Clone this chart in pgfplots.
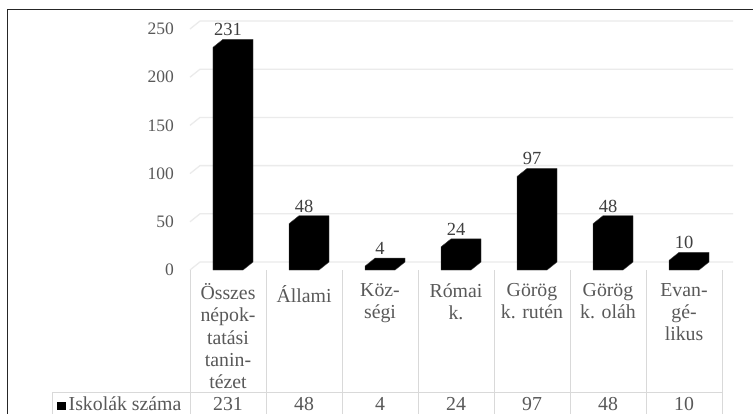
\documentclass[border=0pt]{standalone}
\usepackage{fontspec}
\setmainfont{Liberation Serif}
\usepackage{pgfplots}
\pgfplotsset{compat=1.18}
\usepackage{pgfplotstable}
\definecolor{txt}{HTML}{595959}
\definecolor{lbl}{HTML}{404040}
\definecolor{gridc}{HTML}{EBEBEB}
\definecolor{tabc}{HTML}{D9D9D9}

\pgfplotstableread{
x v
0 231
1 48
2 4
3 24
4 97
5 48
6 10
}\datatable

\begin{document}
\begin{tikzpicture}
\useasboundingbox (0,0) rectangle (753bp,-414bp);
\clip (0,0) rectangle (753bp,-414bp);
\fill[white] (0,0) rectangle (753bp,-414bp);
\draw[black!85, line width=1.6bp] (7.5bp,-600bp) -- (7.5bp,-9.5bp) -- (900bp,-9.5bp);
\draw[tabc, line width=1bp] (52bp,-392bp) -- (722bp,-392bp);
\draw[tabc, line width=1bp] (52bp,-392bp) -- (52bp,-440bp);
\node[anchor=base west, inner sep=0pt, font=\fontsize{19.8bp}{22.3bp}\selectfont, text=txt] at (57bp,-410.5bp) {\textcolor{black}{\raisebox{0.5bp}{\rule{8.5bp}{8.5bp}}}\hspace{3bp}Iskolák száma};
\begin{axis}[
  at={(190bp,-270bp)}, anchor=south west,
  scale only axis, width=532bp, height=241bp,
  xmin=-0.5, xmax=6.5, ymin=0, ymax=250,
  clip=false,
  axis line style={draw=none},
  tick style={draw=none},
  major tick length=0pt,
  ytick={0,50,...,250},
  yticklabel style={font=\fontsize{17.5bp}{20bp}\selectfont, text=txt, anchor=east, inner sep=0pt, xshift=-16bp},
  xtick={0,...,6},
  xticklabels={{Összes\\népok-\\tatási\\tanin-\\tézet}, Állami, {Köz-\\ségi}, {Római\\k.}, {Görög\\k. rutén}, {Görög\\k. oláh}, {Evan-\\gé-\\likus}},
  xticklabel style={font=\fontsize{19.8bp}{22.3bp}\selectfont, text=txt, align=center, anchor=north, inner sep=0pt, yshift=-13.2bp, execute at begin node={\rule{0pt}{19bp}}},
  /pgf/number format/assume math mode=true,
]
% 3D gridlines (floor-side segment + back wall)
\pgfplotsinvokeforeach{0,50,...,250}{
  \draw[gridc, line width=1.3bp] (axis cs:-0.5,#1) -- ++(10bp,8bp) -- ++(533bp,0bp);
}
% data table grid: category separators
\pgfplotsinvokeforeach{-0.5,0.5,...,6.5}{
  \draw[tabc, line width=1bp] (axis cs:#1,0) -- ++(0bp,-170bp);
}
% 3D columns
\pgfplotsinvokeforeach{0,...,6}{
  \pgfplotstablegetelem{#1}{v}\of\datatable
  \pgfmathsetmacro\vfront{\pgfplotsretval}
  \pgfmathsetmacro\vbk{\pgfplotsretval+8.3}
  \pgfmathsetmacro\xl{#1-0.1974}
  \pgfmathsetmacro\xm{#1-0.0658}
  \pgfmathsetmacro\xr{#1+0.1974}
  \pgfmathsetmacro\xb{#1+0.3290}
  \edef\barcmd{\noexpand\addplot[fill=black, draw=black!75, line width=0.4bp] coordinates {(\xl,0) (\xl,\vfront) (\xm,\vbk) (\xb,\vbk) (\xb,8.3) (\xr,0)} -- cycle;}
  \barcmd
}
% data labels above the columns
\addplot[draw=none, nodes near coords,
  every node near coord/.append style={font=\fontsize{18.5bp}{20bp}\selectfont, text=lbl, anchor=base, inner sep=0pt, yshift=11.5bp}]
  table[x=x, y=v]{\datatable};
% data table values
\addplot[draw=none, point meta=\thisrow{v}, nodes near coords,
  every node near coord/.append style={font=\fontsize{19.8bp}{22.3bp}\selectfont, text=txt, anchor=base, inner sep=0pt, yshift=-140.5bp}]
  table[x=x, y expr=0]{\datatable};
\end{axis}
\end{tikzpicture}
\end{document}
